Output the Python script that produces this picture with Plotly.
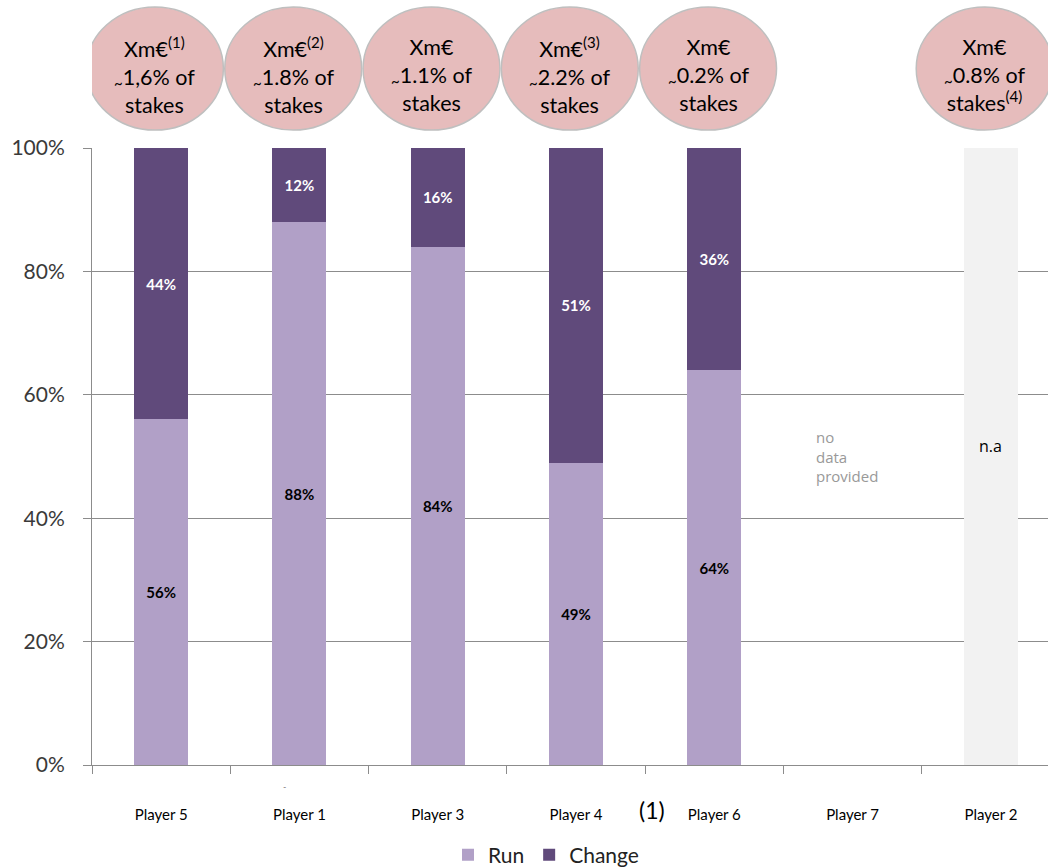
import plotly.graph_objects as go

players = ["Player 5", "Player 1", "Player 3", "Player 4", "Player 6", "Player 7", "Player 2"]
run = [56, 88, 84, 49, 64, None, None]
change = [44, 12, 16, 51, 36, None, None]
na_bar = [None, None, None, None, None, None, 100]
y_ticks = [0, 20, 40, 60, 80, 100]
y_tick_labels = ["0%", "20%", "40%", "60%", "80%", "100%"]
no_data_text = "no<br>data<br>provided"
bubbles = [
    "Xm€<sup>(1)</sup><br><sub>~</sub>1,6% of<br>stakes",
    "Xm€<sup>(2)</sup><br><sub>~</sub>1.8% of<br>stakes",
    "Xm€<br><sub>~</sub>1.1% of<br>stakes",
    "Xm€<sup>(3)</sup><br><sub>~</sub>2.2% of<br>stakes",
    "Xm€<br><sub>~</sub>0.2% of<br>stakes",
    None,
    "Xm€<br><sub>~</sub>0.8% of<br>stakes<sup>(4)</sup>",
]

RUN_C = "#b1a0c7"
CHG_C = "#604a7b"
FONT = "Lato"

fig = go.Figure()
fig.add_trace(go.Bar(
    x=players, y=run, name="Run", marker=dict(color=RUN_C, line=dict(width=0)),
    width=0.39, text=[f"{v}%" if v is not None else "" for v in run],
    textposition="inside", insidetextanchor="middle",
    textfont=dict(family=FONT, size=15, color="black", weight="bold"),
))
fig.add_trace(go.Bar(
    x=players, y=change, name="Change", marker=dict(color=CHG_C, line=dict(width=0)),
    width=0.39, text=[f"{v}%" if v is not None else "" for v in change],
    textposition="inside", insidetextanchor="middle",
    textfont=dict(family=FONT, size=15, color="white", weight="bold"),
))
fig.add_trace(go.Bar(
    x=players, y=na_bar, name="n.a", showlegend=False,
    marker=dict(color="#f2f2f2", line=dict(width=0)), width=0.39,
))

shapes = []
annotations = []
off = -0.045
for i, t in enumerate(bubbles):
    if t is None:
        continue
    cx = i + off
    shapes.append(dict(
        type="circle", xref="x", yref="paper",
        x0=cx - 0.495, x1=cx + 0.495, y0=1.029, y1=1.2285,
        fillcolor="#e6bcbc", line=dict(color="#bfbfbf", width=1.5), layer="above",
    ))
    annotations.append(dict(
        x=cx, y=1.118, xref="x", yref="paper", text=t, showarrow=False,
        font=dict(family=FONT, size=21.5, color="black"), align="center",
        xanchor="center", yanchor="middle",
    ))

annotations.append(dict(
    x="Player 7", y=50, xref="x", yref="y", xshift=-39,
    text=no_data_text, showarrow=False, align="left",
    xanchor="left", yanchor="middle",
    font=dict(family="Open Sans", size=15, color="#999999"),
))
annotations.append(dict(
    x="Player 2", y=51.7, xref="x", yref="y", text="n.a", showarrow=False,
    font=dict(family="Open Sans", size=16, color="black"),
    xanchor="center", yanchor="middle",
))
annotations.append(dict(
    x=(652 - 92) / 956, y=(765 - 810) / 617, xref="paper", yref="paper",
    text="(1)", showarrow=False, xanchor="center", yanchor="middle",
    font=dict(family=FONT, size=23, color="black"),
))
annotations.append(dict(
    x=(284 - 92) / 956, y=(765 - 786) / 617, xref="paper", yref="paper",
    text="-", showarrow=False, xanchor="center", yanchor="middle",
    font=dict(family=FONT, size=9, color="#808080"),
))

fig.update_layout(
    width=1048, height=868,
    margin=dict(l=92, r=0, t=148, b=103, autoexpand=False),
    paper_bgcolor="white", plot_bgcolor="white",
    barmode="stack", bargap=0.61,
    shapes=shapes, annotations=annotations,
    font=dict(family=FONT, color="black"),
    legend=dict(
        orientation="h", x=(546 - 92) / 956, xanchor="center",
        y=(765 - 855) / 617, yanchor="middle", traceorder="normal",
        font=dict(family=FONT, size=21, color="#222222"),
    ),
    showlegend=True,
)
fig.update_xaxes(
    categoryorder="array", categoryarray=players,
    range=[-0.5, 6.413], tickson="boundaries",
    ticks="outside", ticklen=8, tickcolor="#8c8c8c", tickwidth=1,
    showline=True, linecolor="#8c8c8c", linewidth=1,
    showgrid=False, ticklabelstandoff=36,
    tickfont=dict(family=FONT, size=15, color="black"),
)
fig.update_yaxes(
    range=[0, 100], tickmode="array", tickvals=y_ticks, ticktext=y_tick_labels,
    ticks="outside", ticklen=8, tickcolor="#8c8c8c", tickwidth=1,
    showline=True, linecolor="#8c8c8c", linewidth=1,
    showgrid=True, gridcolor="#8c8c8c", gridwidth=1,
    zeroline=False, ticklabelstandoff=14,
    tickfont=dict(family=FONT, size=21, color="#3a3a3a"),
)

fig.write_html("out.html")
